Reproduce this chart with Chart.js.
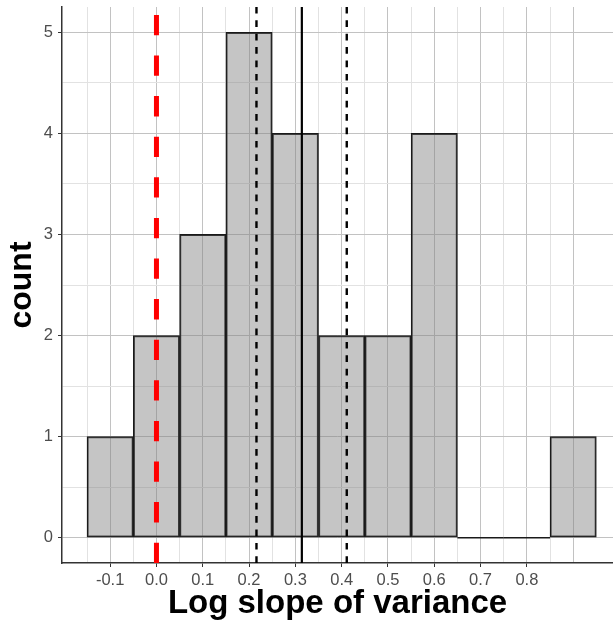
<!DOCTYPE html>
<html>
<head>
<meta charset="utf-8">
<script src="https://cdn.jsdelivr.net/npm/chart.js@4/dist/chart.umd.min.js"></script>
<style>
  html, body { margin: 0; padding: 0; background: #fff; }
  #wrap { width: 613px; height: 621px; }
</style>
</head>
<body>
<div id="wrap"><canvas id="hist"></canvas></div>
<script>
// ===== DATOS =====
const binCenters = [-0.1, 0.0, 0.1, 0.2, 0.3, 0.4, 0.5, 0.6, 0.7, 0.8, 0.9];
const counts = [1, 2, 3, 5, 4, 2, 2, 4, 0, 0, 1];

const xGrid = [-0.15, -0.1, -0.05, 0, 0.05, 0.1, 0.15, 0.2, 0.25, 0.3, 0.35, 0.4,
  0.45, 0.5, 0.55, 0.6, 0.65, 0.7, 0.75, 0.8, 0.85, 0.9];
const xTickLabels = [-0.1, 0.0, 0.1, 0.2, 0.3, 0.4, 0.5, 0.6, 0.7, 0.8];
const yGrid = [0, 0.5, 1, 1.5, 2, 2.5, 3, 3.5, 4, 4.5, 5];
const yTickLabels = [0, 1, 2, 3, 4, 5];

// lineas verticales: referencia, cuantiles, media
const refLine = [0];
const ciLines = [0.216, 0.411];
const meanLine = [0.314];

const FONT = "'Liberation Sans', Arial, Helvetica, sans-serif";

const isMajorX = v => Math.abs(v * 10 - Math.round(v * 10)) < 1e-6;
const isMajorY = v => Math.abs(v - Math.round(v)) < 1e-6;

// dibuja las lineas verticales y las barras vacias
const overlayPlugin = {
  id: 'overlay',
  afterDatasetsDraw(chart) {
    const { ctx, chartArea, scales } = chart;
    const meta = chart.getDatasetMeta(0);

    // barras con cero: solo la linea de base
    ctx.save();
    ctx.strokeStyle = '#1a1a1a';
    ctx.lineWidth = 1.3;
    meta.data.forEach((bar, i) => {
      if (counts[i] !== 0) return;
      const p = bar.getProps(['x', 'y', 'width'], true);
      ctx.beginPath();
      ctx.moveTo(p.x - p.width / 2, p.y);
      ctx.lineTo(p.x + p.width / 2, p.y);
      ctx.stroke();
    });
    ctx.restore();

    const vline = (value, color, width, dash) => {
      const x = scales.x.getPixelForValue(value);
      ctx.save();
      ctx.strokeStyle = color;
      ctx.lineWidth = width;
      ctx.setLineDash(dash);
      ctx.beginPath();
      ctx.moveTo(x, chartArea.bottom);
      ctx.lineTo(x, chartArea.top);
      ctx.stroke();
      ctx.restore();
    };

    ciLines.forEach(v => vline(v, '#000', 2.4, [6.7, 6.7]));
    meanLine.forEach(v => vline(v, '#000', 2.2, []));
    refLine.forEach(v => vline(v, '#ff0000', 5, [20.3, 20.3]));
  }
};

new Chart(document.getElementById('hist'), {
  type: 'bar',
  data: {
    datasets: [{
      data: binCenters.map((c, i) => ({ x: c, y: counts[i] })),
      backgroundColor: 'rgba(128,128,128,0.46)',
      borderColor: '#1a1a1a',
      borderWidth: 1.3,
      borderSkipped: false,
      barThickness: 'flex',
      barPercentage: 1,
      categoryPercentage: 1
    }]
  },
  options: {
    responsive: true,
    maintainAspectRatio: false,
    animation: false,
    layout: { padding: { top: 7, right: 0, bottom: 0, left: 0 } },
    plugins: {
      legend: { display: false },
      tooltip: { enabled: false }
    },
    scales: {
      x: {
        type: 'linear',
        min: -0.204,
        max: 0.986,
        offset: false,
        afterBuildTicks: scale => { scale.ticks = xGrid.map(v => ({ value: v })); },
        afterFit: scale => {
          scale.height = 58;
          scale.paddingLeft = 0;
          scale.paddingRight = 0;
        },
        grid: {
          offset: false,
          color: c => isMajorX(c.tick.value) ? '#c2c2c2' : '#e2e2e2',
          lineWidth: 1,
          tickLength: 4,
          tickColor: c => (isMajorX(c.tick.value) && c.tick.value < 0.85) ? '#333' : 'rgba(0,0,0,0)'
        },
        border: { display: true, color: '#333', width: 1.5 },
        ticks: {
          autoSkip: false,
          maxRotation: 0,
          padding: 4,
          color: '#4d4d4d',
          font: { family: FONT, size: 16.5 },
          callback: v => xTickLabels.some(t => Math.abs(t - v) < 1e-6) ? v.toFixed(1) : ''
        },
        title: {
          display: true,
          text: 'Log slope of variance',
          color: '#000',
          font: { family: FONT, size: 33, weight: 'bold', lineHeight: 1.0 },
          padding: { top: 0, bottom: 1 }
        }
      },
      y: {
        type: 'linear',
        min: -0.25,
        max: 5.25,
        afterBuildTicks: scale => { scale.ticks = yGrid.map(v => ({ value: v })); },
        afterFit: scale => {
          scale.width = 62;
          scale.paddingTop = 0;
          scale.paddingBottom = 0;
        },
        grid: {
          color: c => isMajorY(c.tick.value) ? '#c2c2c2' : '#e2e2e2',
          lineWidth: 1,
          tickLength: 4,
          tickColor: c => isMajorY(c.tick.value) ? '#333' : 'rgba(0,0,0,0)'
        },
        border: { display: true, color: '#333', width: 1.5 },
        ticks: {
          autoSkip: false,
          padding: 5,
          color: '#4d4d4d',
          font: { family: FONT, size: 16.5 },
          callback: v => yTickLabels.includes(v) ? String(v) : ''
        },
        title: {
          display: true,
          text: 'count',
          color: '#000',
          font: { family: FONT, size: 32, weight: 'bold' },
          padding: { top: 3, bottom: 0 }
        }
      }
    }
  },
  plugins: [overlayPlugin]
});
</script>
</body>
</html>
